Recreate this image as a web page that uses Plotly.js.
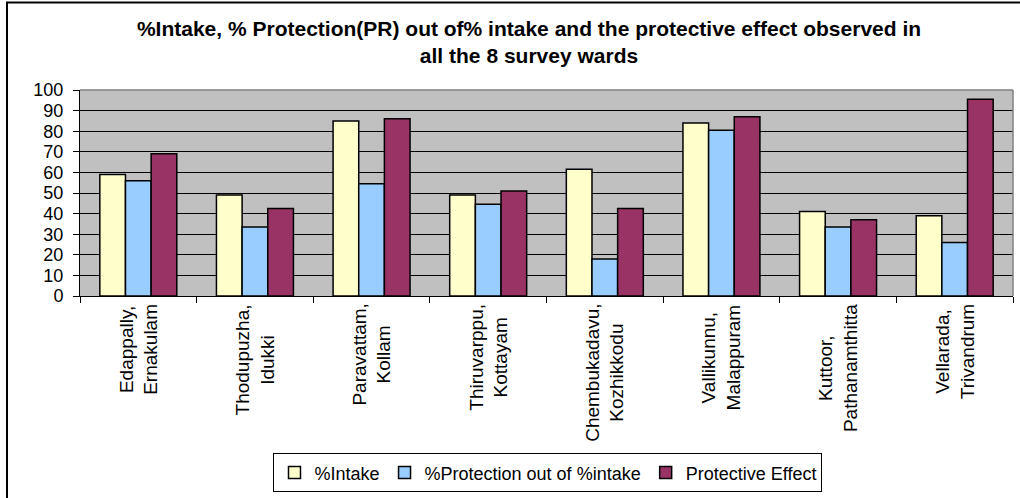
<!DOCTYPE html>
<html>
<head>
<meta charset="utf-8">
<script src="https://cdn.plot.ly/plotly-3.0.1.min.js"></script>
<style>html,body{margin:0;padding:0;background:#fff;}#chart{width:1020px;height:498px;}</style>
</head>
<body>
<div id="chart"></div>
<script>
var categories = ["Edappally,<br>Ernakulam", "Thodupuzha,<br>Idukki", "Paravattam,<br>Kollam", "Thiruvarppu,<br>Kottayam", "Chembukadavu,<br>Kozhikkodu", "Vallikunnu,<br>Malappuram", "Kuttoor,<br>Pathanamthitta", "Vellarada,<br>Trivandrum"];
var seriesNames = ["%Intake", "%Protection out of %intake", "Protective Effect"];
var intake = [59, 49, 85, 49, 61.5, 84, 41, 39];
var protection = [56, 33.5, 54.5, 44.5, 18, 80.5, 33.5, 26];
var protectiveEffect = [69, 42.5, 86, 51, 42.5, 87, 37, 95.5];
var yTicks = [0, 10, 20, 30, 40, 50, 60, 70, 80, 90, 100];
var titleText = "%Intake, % Protection(PR) out of% intake and the protective effect observed in<br>all the 8 survey wards";

var colors = ["#FFFFCC", "#99CCFF", "#993366"];
var values = [intake, protection, protectiveEffect];
var FONT = "Liberation Sans, Arial, sans-serif";

var data = values.map(function (v, i) {
  return {
    type: "bar",
    name: seriesNames[i],
    x: categories,
    y: v,
    marker: {color: colors[i], line: {color: "#000", width: 1.5}},
    hoverinfo: "none"
  };
});

var annotations = categories.map(function (c) {
  return {
    x: c, xref: "x", y: 0, yref: "paper",
    yanchor: "top", xanchor: "center", yshift: -6,
    text: c, showarrow: false, textangle: -90, align: "center",
    font: {family: FONT, size: 19, color: "#000"}
  };
});

var layout = {
  width: 1020, height: 498,
  margin: {l: 80, r: 7, t: 90, b: 201},
  paper_bgcolor: "#fff",
  plot_bgcolor: "#C0C0C0",
  barmode: "group",
  bargap: 0.34,
  bargroupgap: 0,
  showlegend: true,
  title: {
    text: titleText,
    font: {family: FONT, size: 21, color: "#000", weight: "bold"},
    xref: "container", x: 529 / 1020, xanchor: "center",
    yref: "container", y: 1 - 36 / 498, yanchor: "middle"
  },
  xaxis: {
    type: "category",
    showticklabels: false,
    showgrid: false,
    showline: true, linecolor: "#000", linewidth: 1,
    ticks: "outside", ticklen: 6, tickcolor: "#000", tickwidth: 1,
    tickson: "boundaries",
    fixedrange: true
  },
  yaxis: {
    range: [0, 100],
    tickvals: yTicks,
    ticktext: yTicks.map(String),
    showgrid: true, gridcolor: "#000", gridwidth: 1,
    showline: true, linecolor: "#000", linewidth: 1,
    ticks: "outside", ticklen: 6, tickcolor: "#000", tickwidth: 1,
    ticklabelstandoff: 6,
    tickfont: {family: FONT, size: 18, color: "#000"},
    zeroline: false,
    fixedrange: true
  },
  legend: {
    orientation: "h",
    xref: "paper", x: 0.5016, xanchor: "center",
    yref: "paper", y: -0.755, yanchor: "top",
    bordercolor: "#000", borderwidth: 1,
    bgcolor: "#fff",
    font: {family: FONT, size: 18, color: "#000"},
    itemclick: false, itemdoubleclick: false
  },
  annotations: annotations,
  shapes: [
    {type: "line", xref: "paper", yref: "paper", x0: 0, x1: 1, y0: 1, y1: 1,
     line: {color: "#808080", width: 1.5}, layer: "above"},
    {type: "line", xref: "paper", yref: "paper", x0: 1, x1: 1, y0: 0, y1: 1,
     line: {color: "#808080", width: 1.5}, layer: "above"},
    {type: "rect", xref: "paper", yref: "paper",
     x0: (7 - 80) / 933, x1: (1040 - 80) / 933,
     y0: (297 - 520) / 207, y1: (297 - 2) / 207,
     line: {color: "#000", width: 2}, fillcolor: "rgba(0,0,0,0)", layer: "below"}
  ]
};

Plotly.newPlot("chart", data, layout, {displayModeBar: false, staticPlot: true});
</script>
</body>
</html>
